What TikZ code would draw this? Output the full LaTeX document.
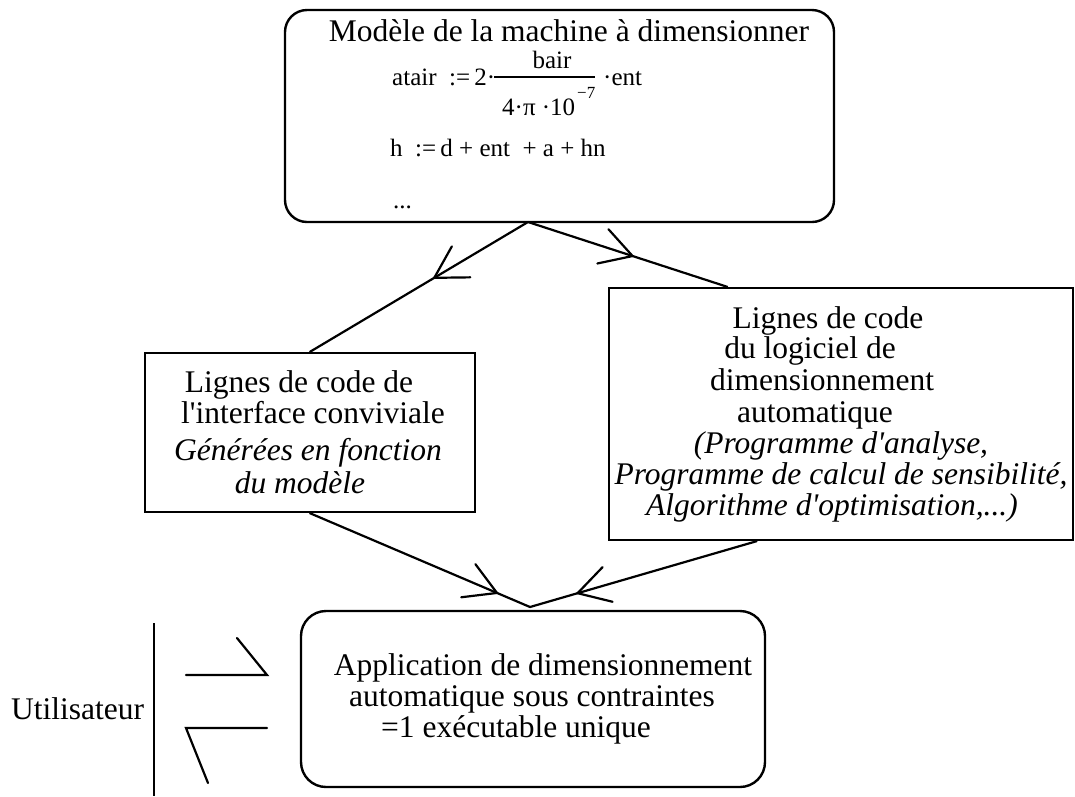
\documentclass[tikz,border=0pt]{standalone}
\usepackage{fontspec}
\newfontfamily\tnr{Liberation Serif}
\usetikzlibrary{calc}
\newcommand{\mainsize}{\tnr\fontsize{31.5}{33}\selectfont}
\newcommand{\eqsize}{\tnr\fontsize{25}{27}\selectfont}
\newcommand{\supsize}{\tnr\fontsize{17}{19}\selectfont}
\newcommand{\barbAt}[2]{\draw[conn] ($(#1)!36pt!30:(#2)$) -- (#1) -- ($(#1)!36pt!-30:(#2)$);}
\begin{document}
\begin{tikzpicture}[x=1pt,y=-1pt,
  conn/.style={line width=2.2pt, line cap=round, line join=miter},
  boxround/.style={draw, line width=2.4pt, rounded corners=22pt, inner sep=0pt},
  boxsquare/.style={draw, line width=2.4pt, inner sep=0pt},
  txt/.style={anchor=base, inner sep=0pt, font=\mainsize},
  itxt/.style={anchor=base, inner sep=0pt, font=\mainsize\itshape},
  eq/.style={anchor=base west, inner sep=0pt, font=\eqsize}]
\useasboundingbox (0,0) rectangle (1075,796);

% boxes
\node[boxround, minimum width=549pt, minimum height=212pt] (model) at (559.5,116) {};
\node[boxsquare, minimum width=330pt, minimum height=159pt] (iface) at (310,432.5) {};
\node[boxsquare, minimum width=464pt, minimum height=252pt] (soft) at (841,414) {};
\node[boxround, rounded corners=25pt, minimum width=464pt, minimum height=176pt] (app) at (533,699) {};

% top box text
\node[txt] (mtitle) at (569,41) {Modèle de la machine à dimensionner};
\node[eq] (eqA) at (392,85) {atair \ :=\,2·};
\node[eq, anchor=base] (eqNum) at (552,68) {bair};
\draw[line width=1.3pt] (494,77) coordinate (fracL) -- (595,77) coordinate (fracR);
\node[eq] (eqEnt) at (603,85) {·ent};
\node[eq] (eqDen) at (502,115) {4·π ·10};
\node[anchor=base west, inner sep=0pt, font=\supsize] (eqSup) at (577,98) {−7};
\node[eq] (eqB) at (390,156) {h \ :=\,d + ent \ + a + hn};
\node[eq] (eqDots) at (393,208) {...};

% left box text
\node[txt] (l1) at (299,392) {Lignes de code de};
\node[txt] (l2) at (313,423) {l'interface conviviale};
\node[itxt] (l3) at (308,460) {Générées en fonction};
\node[itxt] (l4) at (300,493) {du modèle};

% right box text
\node[txt] (r1) at (828,328) {Lignes de code};
\node[txt] (r2) at (810,358) {du logiciel de};
\node[txt] (r3) at (822,390) {dimensionnement};
\node[txt] (r4) at (815,422) {automatique};
\node[itxt] (r5) at (841,453) {(Programme d'analyse,};
\node[itxt] (r6) at (841,484) {Programme de calcul de sensibilité,};
\node[itxt] (r7) at (832,515) {Algorithme d'optimisation,...)};

% bottom box text
\node[txt] (b1) at (543,675) {Application de dimensionnement};
\node[txt] (b2) at (532,706) {automatique sous contraintes};
\node[txt] (b3) at (516,737) {=1 exécutable unique};

% user
\node[anchor=base west, inner sep=0pt, font=\mainsize] (user) at (11,719) {Utilisateur};
\coordinate (uTop) at (154,623);
\coordinate (uBot) at (154,796);
\draw[conn, line cap=butt] (uTop) -- (uBot);
\coordinate (inA) at (186,675);
\coordinate (inB) at (267,675);
\coordinate (inC) at (237,638);
\draw[conn] (inA) -- (inB) -- (inC);
\coordinate (outA) at (267,728);
\coordinate (outB) at (186,728);
\coordinate (outC) at (208,783);
\draw[conn] (outA) -- (outB) -- (outC);

% connectors
\coordinate (split) at (528,222);
\coordinate (join) at (530,607);
\coordinate (softTop) at ($(soft.north west)!0.256!(soft.north east)$);
\coordinate (softBot) at ($(soft.south west)!0.319!(soft.south east)$);
\coordinate (tipL) at ($(split)!0.43!(iface.north)$);
\coordinate (tipR) at ($(split)!0.525!(softTop)$);
\coordinate (tipBL) at ($(iface.south)!0.85!(join)$);
\coordinate (tipBR) at ($(softBot)!0.79!(join)$);
\draw[conn] (split) -- (iface.north);
\draw[conn] (split) -- (softTop);
\draw[conn] (iface.south) -- (join) -- (softBot);
\barbAt{tipL}{split}
\barbAt{tipR}{split}
\barbAt{tipBL}{iface.south}
\barbAt{tipBR}{softBot}
\end{tikzpicture}
\end{document}
